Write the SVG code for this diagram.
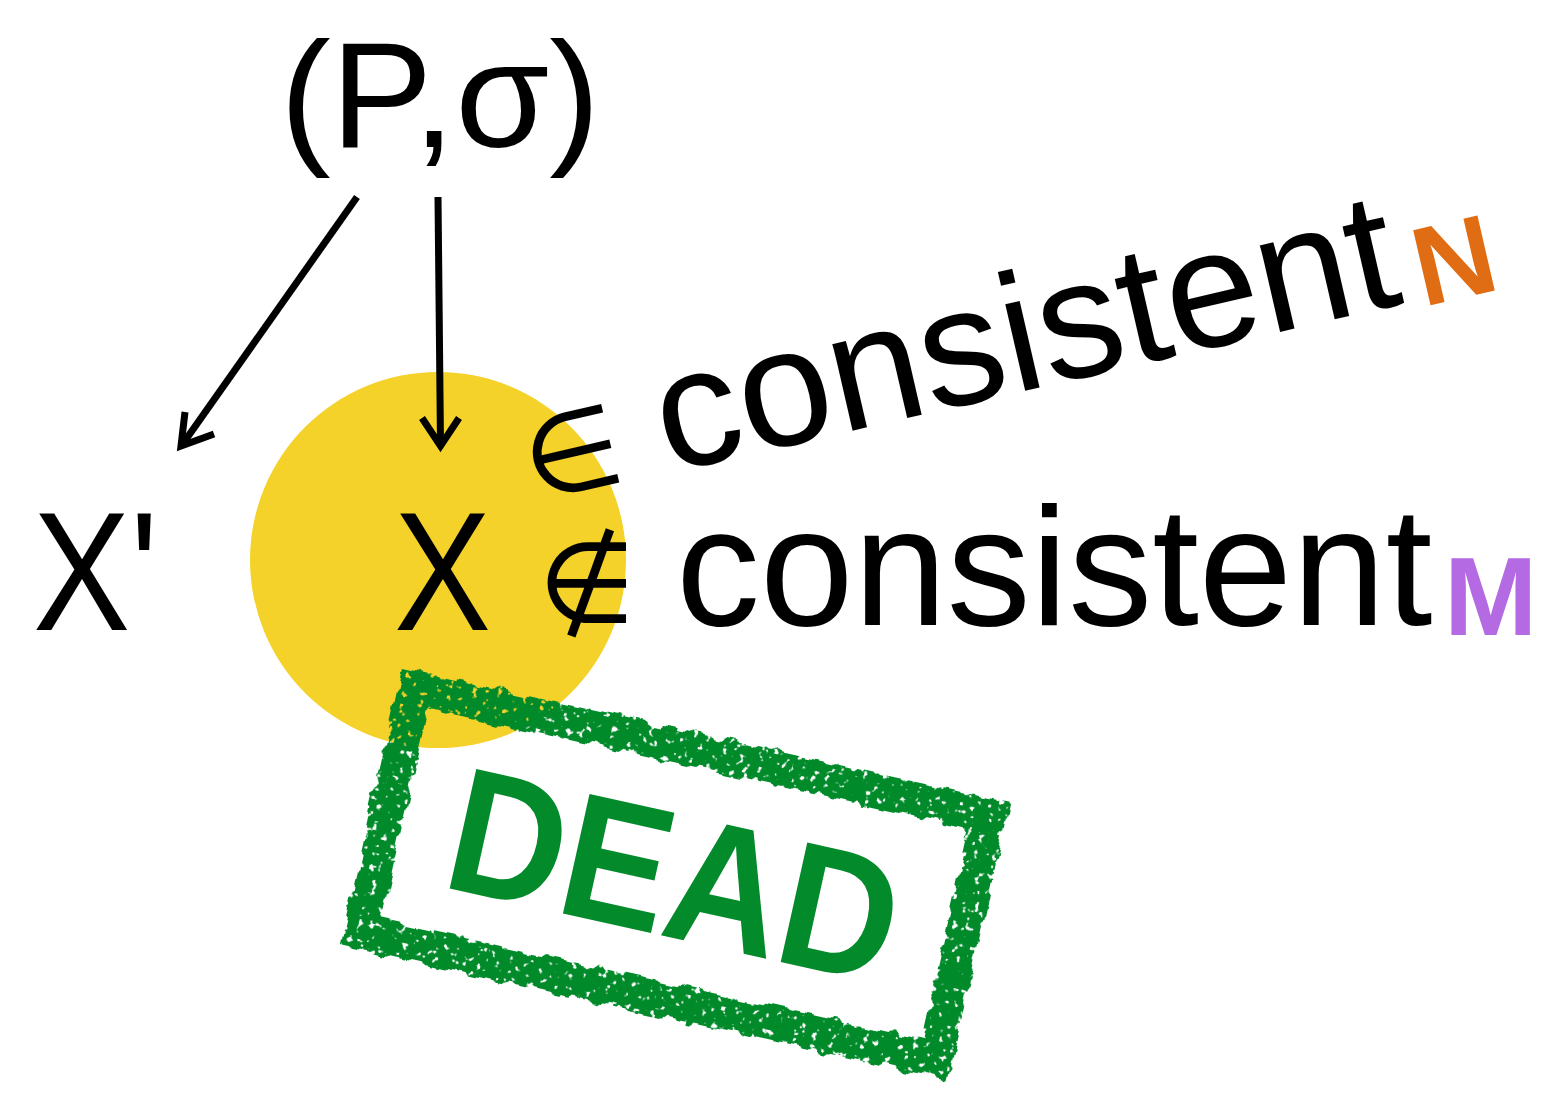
<svg xmlns="http://www.w3.org/2000/svg" width="1547" height="1093" viewBox="0 0 1547 1093">
<style>
.t{font-family:"Liberation Sans",Arial,sans-serif;fill:#000}
.sym{font-family:"DejaVu Sans","Liberation Sans",sans-serif;fill:#000}
.conn{stroke:#000;stroke-width:7;fill:none;stroke-linecap:butt;stroke-linejoin:miter}
.stamp{fill:#038a2b}
</style>
<defs>
<filter id="rough" x="-15%" y="-25%" width="130%" height="150%">
<feTurbulence type="fractalNoise" baseFrequency="0.05" numOctaves="3" seed="4" result="t"/>
<feDisplacementMap in="SourceGraphic" in2="t" scale="14" xChannelSelector="R" yChannelSelector="G" result="d"/>
<feTurbulence type="fractalNoise" baseFrequency="0.16" numOctaves="2" seed="9" result="s"/>
<feColorMatrix in="s" type="matrix" values="0 0 0 0 0 0 0 0 0 0 0 0 0 0 0 14 0 0 0 -4.0" result="mask"/>
<feComposite in="d" in2="mask" operator="in"/>
</filter>
</defs>
<rect width="1547" height="1093" fill="#fff"/>
<g id="circle"><circle cx="438" cy="560" r="188" fill="#f4d22a"/></g>
<g id="node-Psigma"><text class="t" x="280" y="147" font-size="150" textLength="320" lengthAdjust="spacingAndGlyphs">(P,σ)</text></g>
<g id="node-Xprime"><text class="t" x="33" y="630" font-size="168" textLength="125" lengthAdjust="spacingAndGlyphs">X'</text></g>
<g id="node-X"><text class="t" x="394" y="630" font-size="168" textLength="97" lengthAdjust="spacingAndGlyphs">X</text></g>
<g id="line-N" transform="translate(530,505) rotate(-13)">
<text class="sym" x="4" y="-3" font-size="112">∈</text>
<text class="t" x="142" y="0" font-size="168">consistent</text>
<text x="915" y="8" font-size="112" font-weight="bold" fill="#e06c14" font-family="Liberation Sans,Arial,sans-serif">N</text>
</g>
<g id="line-M">
<text class="sym" x="538" y="622" font-size="112">∉</text>
<text class="t" x="676" y="625" font-size="168">consistent</text>
<text x="1444" y="635" font-size="112" font-weight="bold" fill="#b36ae2" font-family="Liberation Sans,Arial,sans-serif">M</text>
</g>
<g id="connectors">
<path class="conn" d="M357,197 L182,445"/>
<path class="conn" d="M185,412 L181,446 L214,434"/>
<path class="conn" d="M438,197 L440.5,444"/>
<path class="conn" d="M422,418 L440.5,446 L459,418"/>
</g>
<g id="stamp" transform="translate(675,874) rotate(12.5)">
<rect x="-294" y="-125" width="588" height="250" fill="none" stroke="#038a2b" stroke-width="34" filter="url(#rough)"/>
<text class="stamp" x="0" y="63" font-size="178" font-weight="bold" text-anchor="middle" textLength="455" lengthAdjust="spacingAndGlyphs" font-family="Liberation Sans,Arial,sans-serif">DEAD</text>
</g>
</svg>
